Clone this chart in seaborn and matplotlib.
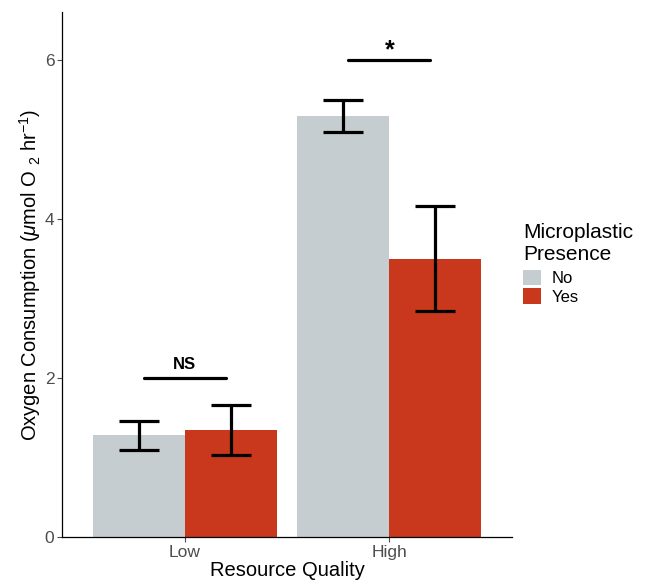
import matplotlib
matplotlib.use("Agg")
import matplotlib.pyplot as plt
import seaborn as sns
import pandas as pd
from matplotlib.patches import Patch

quality = ["Low", "Low", "High", "High"]
presence = ["No", "Yes", "No", "Yes"]
means = [1.28, 1.35, 5.29, 3.49]
lower = [1.10, 1.03, 5.09, 2.84]
upper = [1.46, 1.66, 5.49, 4.16]
cat_order = ["Low", "High"]
hue_order = ["No", "Yes"]
colors = {"No": "#C5CDD1", "Yes": "#C9381C"}
sig_labels = ["NS", "*"]
sig_heights = [2.0, 6.0]
y_ticks = [0, 2, 4, 6]

df = pd.DataFrame({"quality": quality, "presence": presence, "mean": means,
                   "lo": lower, "hi": upper})

sns.set_theme(style="ticks")
plt.rcParams["font.family"] = ["Liberation Sans", "DejaVu Sans"]
plt.rcParams["text.color"] = "black"
plt.rcParams["axes.labelcolor"] = "black"
plt.rcParams["mathtext.fontset"] = "custom"
plt.rcParams["mathtext.rm"] = "Liberation Sans"
plt.rcParams["mathtext.it"] = "Liberation Sans:italic"

fig = plt.figure(figsize=(6.48, 5.82), dpi=100)
ax = fig.add_axes([62/648, 45/582, 450/648, 525/582])

sns.barplot(data=df, x="quality", y="mean", hue="presence", order=cat_order,
            hue_order=hue_order, palette=colors, errorbar=None, width=0.9,
            gap=0, saturation=1, linewidth=0, ax=ax, legend=False)

# error bars from bar positions
bars = [p for p in ax.patches if p.get_height() > 0]
for p in bars:
    xc = p.get_x() + p.get_width() / 2
    h = p.get_height()
    row = df[(df["mean"] - h).abs() < 1e-9].iloc[0]
    ax.errorbar(xc, h, yerr=[[h - row["lo"]], [row["hi"] - h]], fmt="none",
                ecolor="black", elinewidth=2.3, capsize=14.5, capthick=2.3, zorder=5)

# significance lines
for i, (lab, yh) in enumerate(zip(sig_labels, sig_heights)):
    ax.plot([i - 0.2, i + 0.2], [yh, yh], color="black", lw=2.3, solid_capstyle="round")
    fs = 12 if lab == "NS" else 18
    off = 0.07 if lab == "NS" else -0.03
    ax.text(i, yh + off, lab, ha="center", va="bottom", fontsize=fs, fontweight="bold",
            color="black")

ax.set_xlim(-0.6, 1.6)
ax.set_ylim(0, 6.6)
ax.set_yticks(y_ticks)
ax.set_xlabel("Resource Quality", fontsize=14.5, color="black", labelpad=1)
ax.set_ylabel(r"Oxygen Consumption ($\mu$mol O $_{2}$ hr$^{-1}$)", fontsize=14.5,
              color="black", labelpad=1)
ax.tick_params(axis="both", labelsize=12.5, colors="#4D4D4D", length=3.5, width=0.8, pad=2)
for s in ["top", "right"]:
    ax.spines[s].set_visible(False)
for s in ["left", "bottom"]:
    ax.spines[s].set_linewidth(0.9)
    ax.spines[s].set_color("black")

handles = [Patch(facecolor=colors[h], edgecolor="none", label=h) for h in hue_order]
leg = fig.legend(handles=handles, title="Microplastic\nPresence", loc="upper left",
                 bbox_to_anchor=(523/648, 1 - 223/582), frameon=False, fontsize=12,
                 title_fontsize=15, handlelength=1.08, handleheight=1.08,
                 handletextpad=0.62, labelspacing=0.12, borderaxespad=0, borderpad=0,
                 labelcolor="black")
leg.get_title().set_color("black")
leg._legend_box.align = "left"
leg._legend_box.sep = 4

fig.savefig("out.png", dpi=100)
